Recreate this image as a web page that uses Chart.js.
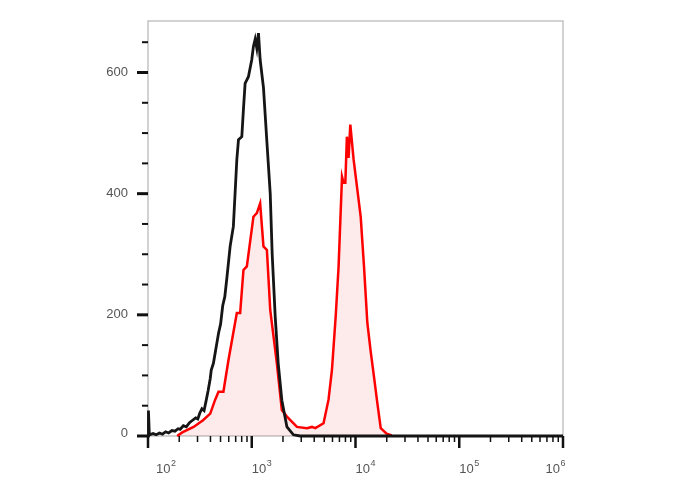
<!DOCTYPE html>
<html>
<head>
<meta charset="utf-8">
<script src="https://cdn.jsdelivr.net/npm/chart.js@4"></script>
<style>
  html, body { margin: 0; padding: 0; background: #fff; }
  #wrap { width: 688px; height: 490px; }
</style>
</head>
<body>
<div id="wrap"><canvas id="histo" width="688" height="490"></canvas></div>
<script>
// unstained control (black) - intensity / count
const blackX = [100, 101, 103, 112, 120, 129, 138, 148, 158, 170, 182, 195, 204, 219, 234, 251, 269, 288, 302, 316,
  331, 347, 363, 380, 398, 407, 427, 447, 479, 501, 525, 550, 575, 619, 665, 718, 745, 802, 832, 863,
  929, 1000, 1038, 1079, 1119, 1161, 1205, 1297, 1400, 1507, 1574, 1683, 1799, 1950, 2183, 2523, 2931, 10000, 100000, 1000000];
const blackY = [0, 42, 2, 4, 2, 5, 3, 7, 5, 9, 8, 12, 11, 17, 15, 22, 26, 30, 28, 38,
  45, 42, 58, 75, 95, 109, 120, 140, 170, 185, 215, 230, 260, 313, 346, 456, 489, 494, 540, 582,
  593, 621, 643, 655, 640, 665, 621, 575, 485, 400, 300, 197, 120, 59, 15, 2, 0, 0, 0, 0];

// stained sample (red)
const redX = [191, 214, 275, 339, 398, 444, 478, 533, 596, 718, 773, 832, 897, 1038, 1119, 1205, 1297, 1400, 1507, 1746,
  1950, 2183, 2729, 3404, 3802, 4102, 4920, 5495, 5929, 6457, 6871, 7413, 7674, 7980, 8260, 8570, 8913, 9594, 11220, 12078,
  13002, 13996, 15066, 16218, 17498, 19953, 22387];
const redY = [0, 6, 15, 26, 37, 60, 73, 73, 125, 203, 203, 274, 280, 362, 368, 384, 313, 307, 208, 120,
  43, 32, 15, 13, 15, 13, 21, 60, 109, 200, 280, 428, 418, 418, 494, 459, 514, 456, 362, 280,
  187, 140, 98, 55, 13, 4, 1];

const yMajor = [0, 200, 400, 600];
const yMinorStep = 50;
const xDecades = [2, 3, 4, 5, 6];

const toPts = (xs, ys) => xs.map((x, i) => ({ x: x, y: ys[i] }));

const facsAxes = {
  id: 'facsAxes',
  beforeDatasetsDraw(chart) {
    const a = chart.chartArea, c = chart.ctx;
    c.save();
    c.strokeStyle = '#c4c4c4';
    c.lineWidth = 1.5;
    c.strokeRect(a.left, a.top, a.right - a.left, a.bottom - a.top);
    c.restore();
  },
  afterDatasetsDraw(chart) {
    const a = chart.chartArea, c = chart.ctx;
    const xs = chart.scales.x, ys = chart.scales.y;
    c.save();
    c.strokeStyle = '#111';
    // y ticks
    for (let v = 0; v <= 650; v += yMinorStep) {
      const py = ys.getPixelForValue(v);
      const major = yMajor.includes(v);
      c.lineWidth = major ? 3 : 2;
      c.beginPath();
      c.moveTo(a.left - (major ? 11 : 6), py);
      c.lineTo(a.left, py);
      c.stroke();
    }
    // x ticks
    xDecades.forEach(d => {
      for (let m = 1; m <= 9; m++) {
        if (d === 6 && m > 1) break;
        const px = xs.getPixelForValue(m * Math.pow(10, d));
        const major = m === 1;
        c.lineWidth = major ? 2.5 : 1.5;
        c.beginPath();
        c.moveTo(px, a.bottom);
        c.lineTo(px, a.bottom + (major ? 12 : 6));
        c.stroke();
      }
    });
    // y labels
    c.fillStyle = '#555';
    c.font = '13px "Liberation Sans", Arial, sans-serif';
    c.textAlign = 'right';
    c.textBaseline = 'middle';
    yMajor.forEach(v => {
      const py = ys.getPixelForValue(v) - (v === 0 ? 3 : 0);
      c.fillText(String(v), a.left - 20, py);
    });
    // x labels 10^n
    xDecades.forEach((d, i) => {
      const px = xs.getPixelForValue(Math.pow(10, d));
      c.font = '13px "Liberation Sans", Arial, sans-serif';
      const wBase = c.measureText('10').width;
      c.font = '9px "Liberation Sans", Arial, sans-serif';
      const wSup = c.measureText(String(d)).width;
      let left = px;
      if (i === 0) left = px + 8;
      if (i === xDecades.length - 1) left = px + 2 - wBase - wSup;
      c.textAlign = 'left';
      c.textBaseline = 'alphabetic';
      c.font = '13px "Liberation Sans", Arial, sans-serif';
      c.fillText('10', left, a.bottom + 37);
      c.font = '9px "Liberation Sans", Arial, sans-serif';
      c.fillText(String(d), left + wBase + 0.5, a.bottom + 30);
    });
    c.restore();
  }
};

new Chart(document.getElementById('histo'), {
  type: 'scatter',
  data: {
    datasets: [
      {
        label: 'Control',
        data: toPts(blackX, blackY),
        showLine: true,
        borderColor: '#151515',
        borderWidth: 2.8,
        pointRadius: 0,
        fill: false,
        order: 0,
        clip: { left: 3, top: 0, right: 3, bottom: 4 }
      },
      {
        label: 'Stained',
        data: toPts(redX, redY),
        showLine: true,
        borderColor: '#ff0000',
        backgroundColor: 'rgba(240,60,60,0.11)',
        borderWidth: 2.5,
        pointRadius: 0,
        fill: 'origin',
        order: 1,
        clip: { left: 3, top: 0, right: 3, bottom: 4 }
      }
    ]
  },
  options: {
    responsive: false,
    animation: false,
    layout: { padding: { left: 148, top: 21, right: 125, bottom: 54 } },
    plugins: { legend: { display: false }, tooltip: { enabled: false } },
    scales: {
      x: { type: 'logarithmic', min: 100, max: 1000000, display: false },
      y: { type: 'linear', min: 0, max: 685, display: false }
    }
  },
  plugins: [facsAxes]
});
</script>
</body>
</html>
